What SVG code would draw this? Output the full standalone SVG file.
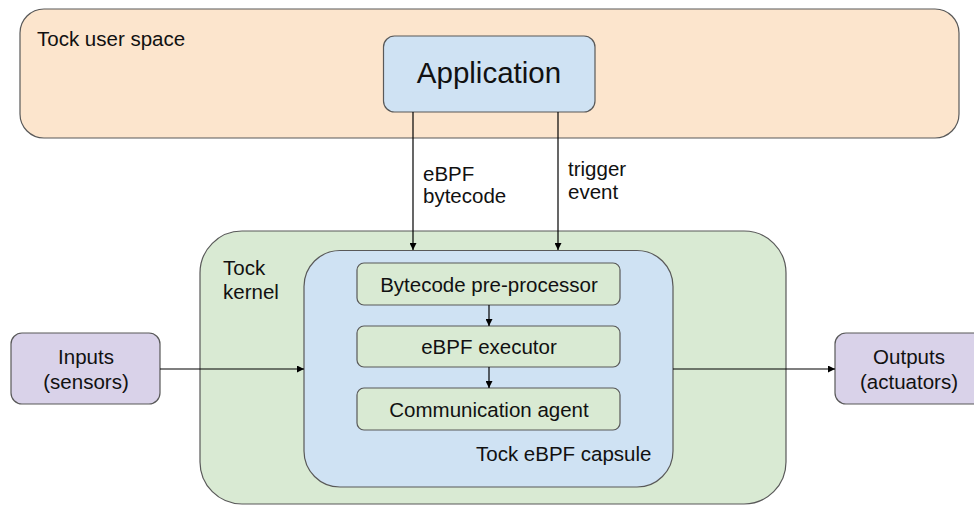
<svg xmlns="http://www.w3.org/2000/svg" width="974" height="505" viewBox="0 0 974 505">
<defs>
<marker id="ah" viewBox="0 0 10 10" refX="10" refY="5" markerWidth="7" markerHeight="7" markerUnits="userSpaceOnUse" orient="auto">
<path d="M0,0 L10,5 L0,10 z" fill="#000"/>
</marker>
<style>
.box{stroke:#595959;stroke-width:1.2}
.peach{fill:#fce5cd}
.blue{fill:#cfe2f3}
.green{fill:#d9ead3}
.purple{fill:#d9d2e9}
text{font-family:"Liberation Sans",Arial,sans-serif;fill:#111;font-size:20.5px}
.c{text-anchor:middle}
.conn{stroke:#000;stroke-width:1.2;fill:none;marker-end:url(#ah)}
</style>
</defs>
<rect width="974" height="505" fill="#fff"/>
<g id="user-space">
<rect class="box peach" x="20" y="9" width="939" height="129" rx="24"/>
<text x="37" y="46">Tock user space</text>
</g>
<g id="application">
<rect class="box blue" x="383.5" y="36" width="211.5" height="76" rx="11"/>
<text class="c" x="489" y="83" style="font-size:29.5px">Application</text>
</g>
<g id="kernel">
<rect class="box green" x="200" y="231" width="586" height="273" rx="42"/>
<text x="223" y="275">Tock</text>
<text x="223" y="299">kernel</text>
</g>
<g id="capsule">
<rect class="box blue" x="304" y="250.5" width="369" height="236.5" rx="36"/>
<text x="476" y="461">Tock eBPF capsule</text>
</g>
<g id="preprocessor">
<rect class="box green" x="357" y="263" width="263" height="42" rx="7"/>
<text class="c" x="489" y="292">Bytecode pre-processor</text>
</g>
<g id="executor">
<rect class="box green" x="357" y="326" width="263" height="41" rx="7"/>
<text class="c" x="489" y="354">eBPF executor</text>
</g>
<g id="agent">
<rect class="box green" x="357" y="388" width="263" height="42" rx="7"/>
<text class="c" x="489" y="417">Communication agent</text>
</g>
<g id="inputs">
<rect class="box purple" x="11" y="333" width="149" height="71" rx="11"/>
<text class="c" x="86" y="364">Inputs</text>
<text class="c" x="86" y="389">(sensors)</text>
</g>
<g id="outputs">
<rect class="box purple" x="835" y="333" width="150" height="71" rx="11"/>
<text class="c" x="909" y="364">Outputs</text>
<text class="c" x="909" y="389">(actuators)</text>
</g>
<g id="connectors">
<line class="conn" x1="413" y1="112" x2="413" y2="250"/>
<line class="conn" x1="558" y1="112" x2="558" y2="250"/>
<line class="conn" x1="489" y1="305" x2="489" y2="326"/>
<line class="conn" x1="489" y1="367" x2="489" y2="388"/>
<line class="conn" x1="160" y1="369" x2="304" y2="369"/>
<line class="conn" x1="673" y1="369" x2="835" y2="369"/>
<text x="423" y="181">eBPF</text>
<text x="423" y="203">bytecode</text>
<text x="568" y="176">trigger</text>
<text x="568" y="199">event</text>
</g>
</svg>
